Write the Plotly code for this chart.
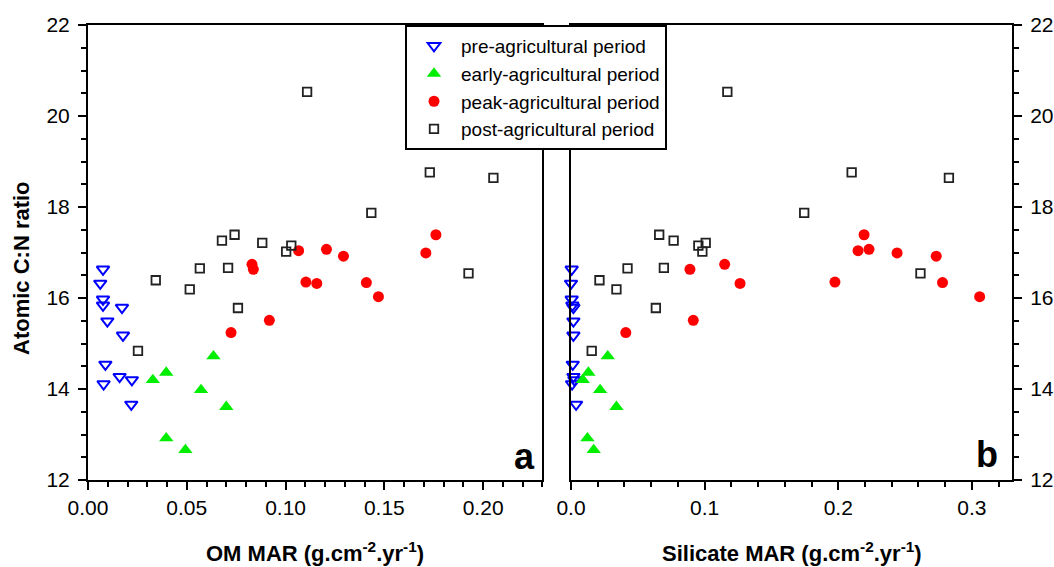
import plotly.graph_objects as go

# ---- data ----
pre_y = [16.63, 16.32, 15.97, 15.84, 15.79, 15.49, 15.18, 14.54, 14.27, 14.20, 14.11, 13.66]
pre_om = [0.0076, 0.0062, 0.0076, 0.0076, 0.0172, 0.0098, 0.0177, 0.0088, 0.0160, 0.0222, 0.0079, 0.0219]
pre_sil = [0.0005, 0.0000, 0.0005, 0.0010, 0.0018, 0.0018, 0.0018, 0.0013, 0.0018, 0.0025, 0.0008, 0.0038]

early_y = [14.20, 14.36, 14.72, 13.98, 13.61, 12.92, 12.66]
early_om = [0.0328, 0.0396, 0.0635, 0.0572, 0.0700, 0.0396, 0.0493]
early_sil = [0.0088, 0.0130, 0.0275, 0.0218, 0.0340, 0.0123, 0.0170]

peak_y = [15.24, 15.51, 16.74, 16.63, 17.04, 17.07, 16.92, 16.35, 16.32, 16.34, 16.03, 16.99, 17.39]
peak_om = [0.0724, 0.0918, 0.0830, 0.0837, 0.1066, 0.1207, 0.1293, 0.1103, 0.1158, 0.1409, 0.1470, 0.1710, 0.1761]
peak_sil = [0.0410, 0.0915, 0.1150, 0.0890, 0.2148, 0.2230, 0.2733, 0.1975, 0.1265, 0.2780, 0.3058, 0.2440, 0.2193]

post_y = [20.53, 18.76, 18.64, 17.87, 17.26, 17.39, 17.21, 17.02, 17.15, 16.39, 16.19, 16.65, 16.66, 15.78, 14.84, 16.54]
post_om = [0.1109, 0.1730, 0.2052, 0.1434, 0.0678, 0.0742, 0.0882, 0.1003, 0.1029, 0.0343, 0.0515, 0.0566, 0.0709, 0.0759, 0.0253, 0.1926]
post_sil = [0.1170, 0.2100, 0.2828, 0.1745, 0.0768, 0.0660, 0.1008, 0.0983, 0.0953, 0.0213, 0.0340, 0.0423, 0.0695, 0.0635, 0.0155, 0.2615]

series_names = ["pre-agricultural period", "early-agricultural period",
                "peak-agricultural period", "post-agricultural period"]

FONT = "Liberation Sans, Arial, sans-serif"

styles = [
    dict(symbol="triangle-down-open", size=11, color="#0000ff", line=dict(width=2, color="#0000ff")),
    dict(symbol="triangle-up", size=12.5, color="#00ee00", line=dict(width=0)),
    dict(symbol="circle", size=11, color="#ff0000", line=dict(width=0)),
    dict(symbol="square-open", size=8.5, color="#222222", line=dict(width=1.8, color="#222222")),
]

groups = [
    (pre_om, pre_sil, pre_y),
    (early_om, early_sil, early_y),
    (peak_om, peak_sil, peak_y),
    (post_om, post_sil, post_y),
]

fig = go.Figure()
for name, st, (xo, xs, yv) in zip(series_names, styles, groups):
    fig.add_trace(go.Scatter(x=xo, y=yv, mode="markers", name=name, marker=st,
                             xaxis="x", yaxis="y", cliponaxis=False, showlegend=True))
for name, st, (xo, xs, yv) in zip(series_names, styles, groups):
    fig.add_trace(go.Scatter(x=xs, y=yv, mode="markers", name=name, marker=st,
                             xaxis="x2", yaxis="y2", cliponaxis=False, showlegend=False))

W, H = 1054, 567
ML, MR, MT, MB = 88, 42, 25, 87
PW = W - ML - MR
PH = H - MT - MB
ax_l, ax_r = 0.0, (542.4 - ML) / PW
bx_l, bx_r = (571.0 - ML) / PW, 1.0

common = dict(showline=True, linewidth=2, linecolor="black", mirror=True,
              ticks="outside", ticklen=8, tickwidth=2, tickcolor="black",
              showgrid=False, zeroline=False, automargin=False,
              tickfont=dict(family=FONT, size=21, color="black"))
minor_style = dict(ticks="outside", ticklen=5, tickwidth=2, tickcolor="black")

fig.update_layout(
    width=W, height=H,
    margin=dict(l=ML, r=MR, t=MT, b=MB, autoexpand=False),
    paper_bgcolor="white", plot_bgcolor="white",
    font=dict(family=FONT, color="black"),
    xaxis=dict(domain=[ax_l, ax_r], range=[0, 0.23], dtick=0.05, tick0=0, tickformat=".2f",
               anchor="y", minor=dict(dtick=0.01, tick0=0, **minor_style), **common),
    yaxis=dict(domain=[0, 1], range=[12, 22], dtick=2, tick0=12, anchor="x",
               minor=dict(dtick=0.5, tick0=12, **minor_style), ticklabelstandoff=4, **common),
    xaxis2=dict(domain=[bx_l, bx_r], range=[0, 0.33], dtick=0.1, tick0=0, tickformat=".1f",
                anchor="y2", minor=dict(dtick=0.02, tick0=0, **minor_style), **common),
    yaxis2=dict(domain=[0, 1], range=[12, 22], dtick=2, tick0=12, anchor="x2", side="right",
                minor=dict(dtick=0.5, tick0=12, **minor_style), ticklabelstandoff=4, **common),
    legend=dict(x=(405 - ML) / PW, y=1.0, xref="paper", yref="paper",
                xanchor="left", yanchor="top",
                bgcolor="white", bordercolor="black", borderwidth=2,
                font=dict(family=FONT, size=19, color="black"),
                itemwidth=44, tracegroupgap=0),
    showlegend=True,
)

def py(pix):  # pixel row -> paper y fraction
    return (H - MB - pix) / PH

def px(pix):  # pixel column -> paper x fraction
    return (pix - ML) / PW

annotations = [
    dict(text="<b>Atomic C:N ratio</b>", xref="paper", yref="paper",
         x=px(21), y=py(268), textangle=-90, showarrow=False,
         font=dict(family=FONT, size=22, color="black"), xanchor="center", yanchor="middle"),
    dict(text="<b>OM MAR (g.cm<sup>-2</sup>.yr<sup>-1</sup>)</b>", xref="paper", yref="paper",
         x=px((88 + 542.4) / 2), y=py(552), showarrow=False,
         font=dict(family=FONT, size=22, color="black"), xanchor="center", yanchor="middle"),
    dict(text="<b>Silicate MAR (g.cm<sup>-2</sup>.yr<sup>-1</sup>)</b>", xref="paper", yref="paper",
         x=px((571.0 + 1012) / 2), y=py(552), showarrow=False,
         font=dict(family=FONT, size=22, color="black"), xanchor="center", yanchor="middle"),
    dict(text="<b>a</b>", xref="paper", yref="paper", x=px(537), y=py(479),
         showarrow=False, xanchor="right", yanchor="bottom",
         font=dict(family=FONT, size=36, color="black")),
    dict(text="<b>b</b>", xref="paper", yref="paper", x=px(1000), y=py(477),
         showarrow=False, xanchor="right", yanchor="bottom",
         font=dict(family=FONT, size=36, color="black")),
]
fig.update_layout(annotations=annotations)

fig.write_html("out.html", config={"displayModeBar": False},
               post_script="document.body.style.margin='0';document.body.style.padding='0';")
